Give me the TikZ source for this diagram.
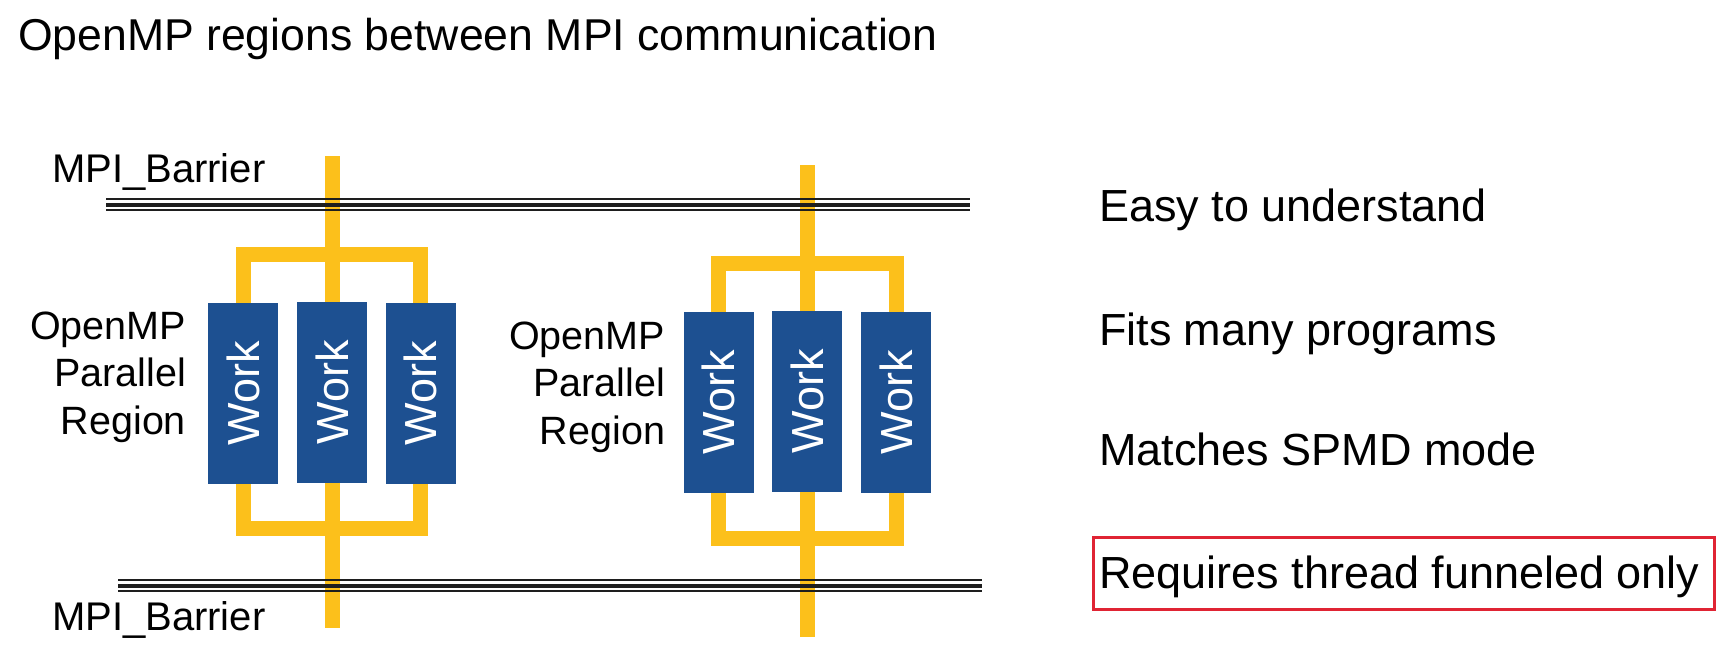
\documentclass[tikz,border=0pt]{standalone}
\usepackage{fontspec}
\setmainfont{Liberation Sans}
\usepackage{graphicx}
\definecolor{workblue}{RGB}{29,80,145}
\definecolor{threadyellow}{RGB}{252,192,27}
\definecolor{boxred}{RGB}{224,36,52}
\definecolor{barblack}{RGB}{30,30,30}
\begin{document}
\begin{tikzpicture}[x=1pt,y=-1pt,
  every node/.style={inner sep=0pt, outer sep=0pt},
  titletext/.style={anchor=base west, font=\fontsize{44.6}{53}\selectfont},
  bullettext/.style={anchor=base west, font=\fontsize{45}{54}\selectfont},
  barlabel/.style={anchor=base west, font=\fontsize{40}{48}\selectfont},
  regionlabel/.style={anchor=base east, align=right, font=\fontsize{39.5}{47.5}\selectfont},
  workbox/.style={fill=workblue, text=white, minimum width=70pt, minimum height=181pt, font=\fontsize{45}{54}\selectfont},
  thread/.style={draw=threadyellow, line width=15pt},
  barthick/.style={draw=barblack, line width=4pt},
  barthin/.style={draw=barblack, line width=2pt},
  redframe/.style={draw=boxred, line width=3pt}
]
\useasboundingbox (0,0) rectangle (1733,662);

% title and labels
\node[titletext] (title) at (18,50) {OpenMP regions between MPI communication};
\node[barlabel] (bartoplabel) at (52,182) {MPI\_Barrier};
\node[barlabel] (barbotlabel) at (52,630) {MPI\_Barrier};
\node[regionlabel] (regL) at (186,434) {OpenMP\\Parallel\\Region};
\node[regionlabel] (regR) at (665,444) {OpenMP\\Parallel\\Region};

% work boxes, left group
\node[workbox] (wl1) at (243,393.5) {\rotatebox{90}{Work}};
\node[workbox] (wl2) at (332,392) {\rotatebox{90}{Work}};
\node[workbox] (wl3) at (420.5,393.5) {\rotatebox{90}{Work}};
% work boxes, right group
\node[workbox] (wr1) at (718.5,402.5) {\rotatebox{90}{Work}};
\node[workbox] (wr2) at (807,401) {\rotatebox{90}{Work}};
\node[workbox] (wr3) at (896,402.5) {\rotatebox{90}{Work}};

% thread lines, left group
\coordinate (tlTop) at (332,156);
\coordinate (tlBar) at (332,254.5);
\coordinate (tlBot) at (332,528);
\coordinate (tlEnd) at (332,628);
\draw[thread] (tlTop) -- (wl2.north);
\draw[thread] (wl1.north) |- (tlBar) -| (wl3.north);
\draw[thread] (wl1.south) |- (tlBot) -| (wl3.south);
\draw[thread] (wl2.south) -- (tlEnd);

% thread lines, right group
\coordinate (trTop) at (807,165);
\coordinate (trBar) at (807,263);
\coordinate (trBot) at (807,538);
\coordinate (trEnd) at (807,637);
\draw[thread] (trTop) -- (wr2.north);
\draw[thread] (wr1.north) |- (trBar) -| (wr3.north);
\draw[thread] (wr1.south) |- (trBot) -| (wr3.south);
\draw[thread] (wr2.south) -- (trEnd);

% barriers
\coordinate (btL) at (106,204.5);
\coordinate (btR) at (970,204.5);
\draw[barthick] (btL) -- (btR);
\draw[barthin] ([yshift=5.3pt]btL) -- ([yshift=5.3pt]btR);
\draw[barthin] ([yshift=-5.3pt]btL) -- ([yshift=-5.3pt]btR);
\coordinate (bbL) at (118,585.5);
\coordinate (bbR) at (982,585.5);
\draw[barthick] (bbL) -- (bbR);
\draw[barthin] ([yshift=5.3pt]bbL) -- ([yshift=5.3pt]bbR);
\draw[barthin] ([yshift=-5.3pt]bbL) -- ([yshift=-5.3pt]bbR);

% right column
\node[bullettext] (easy) at (1099,221) {Easy to understand};
\node[bullettext] (fits) at (1099,345) {Fits many programs};
\node[bullettext] (matches) at (1099,465) {Matches SPMD mode};
\node[bullettext] (requires) at (1099,588) {Requires thread funneled only};
\draw[redframe] (1093.5,537.5) rectangle (1714.5,609.5);
\end{tikzpicture}
\end{document}
